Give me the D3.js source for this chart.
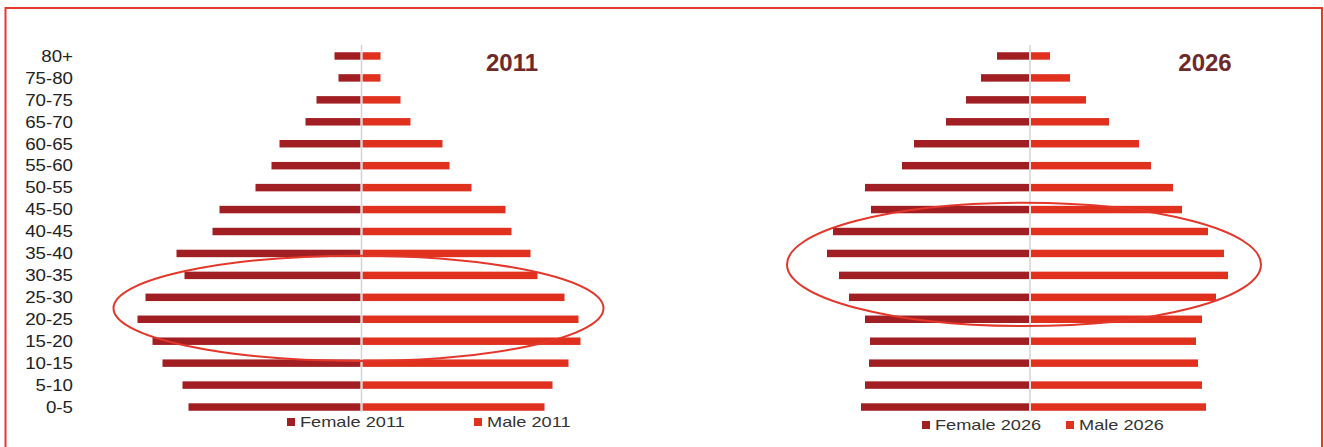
<!DOCTYPE html>
<html>
<head>
<meta charset="utf-8">
<script src="https://cdn.jsdelivr.net/npm/d3@7"></script>
<style>
  body { margin: 0; background: #fff; }
  svg text { font-family: "Liberation Sans", Arial, sans-serif; }
</style>
</head>
<body>
<svg id="chart" width="1324" height="447"></svg>
<script>
// Age groups, top to bottom
var ageGroups = ["80+", "75-80", "70-75", "65-70", "60-65", "55-60", "50-55", "45-50", "40-45",
                 "35-40", "30-35", "25-30", "20-25", "15-20", "10-15", "5-10", "0-5"];

// Population (thousands)
var female2011 = [26, 22, 44, 55, 81, 89, 105, 141, 148, 184, 176, 215, 223, 208, 198, 178, 172];
var male2011   = [18, 18, 38, 48, 80, 87, 109, 143, 149, 168, 175, 202, 216, 218, 206, 190, 182];
var female2026 = [32, 48, 63, 83, 115, 127, 164, 158, 196, 202, 190, 180, 164, 159, 160, 164, 168];
var male2026   = [19, 39, 55, 78, 108, 120, 142, 151, 177, 193, 197, 185, 171, 165, 167, 171, 175];

var years = ["2011", "2026"];

var femaleColor = "#a11f22",
    maleColor = "#e0301e",
    ringColor = "#e2372a";

var svg = d3.select("#chart");

// Outer frame
svg.append("rect")
    .attr("x", 5.5).attr("y", 8)
    .attr("width", 1316.5).attr("height", 460)
    .attr("fill", "none")
    .attr("stroke", "#e4392b")
    .attr("stroke-width", 2);

var y = d3.scaleBand()
    .domain(ageGroups)
    .range([45, 418])
    .paddingInner(0.66)
    .paddingOuter(0.33);

// one unit of population = one pixel
var w = d3.scaleLinear().domain([0, 250]).range([0, 250]);

var panels = [
  { year: years[0], cx: 361.5, female: female2011, male: male2011, showLabels: true,
    titleX: 512, legendY: 427, legendX: [287, 474],
    ring: { top: "30-35", bottom: "15-20", left: 248, right: 242, pad: 4 } },
  { year: years[1], cx: 1030, female: female2026, male: male2026, showLabels: false,
    titleX: 1205, legendY: 430, legendX: [922, 1066],
    ring: { top: "40-45", bottom: "25-30", left: 243, right: 231, pad: 13 } }
];

panels.forEach(function(p) {
  var g = svg.append("g");

  // female bars go left
  g.selectAll(".female")
    .data(p.female)
    .enter().append("rect")
      .attr("class", "female")
      .attr("x", function(d) { return p.cx - 1 - w(d); })
      .attr("y", function(d, i) { return y(ageGroups[i]); })
      .attr("width", function(d) { return w(d); })
      .attr("height", y.bandwidth())
      .attr("fill", femaleColor);

  // male bars go right
  g.selectAll(".male")
    .data(p.male)
    .enter().append("rect")
      .attr("class", "male")
      .attr("x", p.cx + 1)
      .attr("y", function(d, i) { return y(ageGroups[i]); })
      .attr("width", function(d) { return w(d); })
      .attr("height", y.bandwidth())
      .attr("fill", maleColor);

  // centre axis
  g.append("line")
    .attr("x1", p.cx).attr("x2", p.cx)
    .attr("y1", 45).attr("y2", 412)
    .attr("stroke", "#d4d4d4")
    .attr("stroke-width", 1.5);

  if (p.showLabels) {
    g.selectAll(".age")
      .data(ageGroups)
      .enter().append("text")
        .attr("class", "age")
        .attr("transform", function(d) {
          return "translate(73," + (y(d) + y.bandwidth() / 2) + ") scale(1.17,1)";
        })
        .attr("text-anchor", "end")
        .attr("dy", "0.36em")
        .style("font-size", "16px")
        .style("fill", "#222")
        .text(function(d) { return d; });
  }

  g.append("text")
    .attr("x", p.titleX)
    .attr("y", 71)
    .attr("text-anchor", "middle")
    .style("font-size", "24px")
    .style("font-weight", "bold")
    .style("fill", "#6e2a2a")
    .text(p.year);

  // legend
  var legend = [
    { label: "Female " + p.year, color: femaleColor },
    { label: "Male " + p.year, color: maleColor }
  ];
  legend.forEach(function(l, i) {
    var lx = p.legendX[i];
    g.append("rect")
      .attr("x", lx).attr("y", p.legendY - 9)
      .attr("width", 8).attr("height", 8)
      .attr("fill", l.color);
    g.append("text")
      .attr("transform", "translate(" + (lx + 13) + "," + p.legendY + ") scale(1.3,1)")
      .style("font-size", "14px")
      .style("fill", "#333")
      .text(l.label);
  });

  // highlight ring round the bulge
  var r = p.ring;
  var top = y(r.top) - r.pad,
      bottom = y(r.bottom) + y.bandwidth() + r.pad;
  g.append("ellipse")
    .attr("cx", p.cx + (w(r.right) - w(r.left)) / 2)
    .attr("cy", (top + bottom) / 2)
    .attr("rx", (w(r.left) + w(r.right)) / 2)
    .attr("ry", (bottom - top) / 2 + 12)
    .attr("fill", "none")
    .attr("stroke", ringColor)
    .attr("stroke-width", 2);
});
</script>
</body>
</html>
